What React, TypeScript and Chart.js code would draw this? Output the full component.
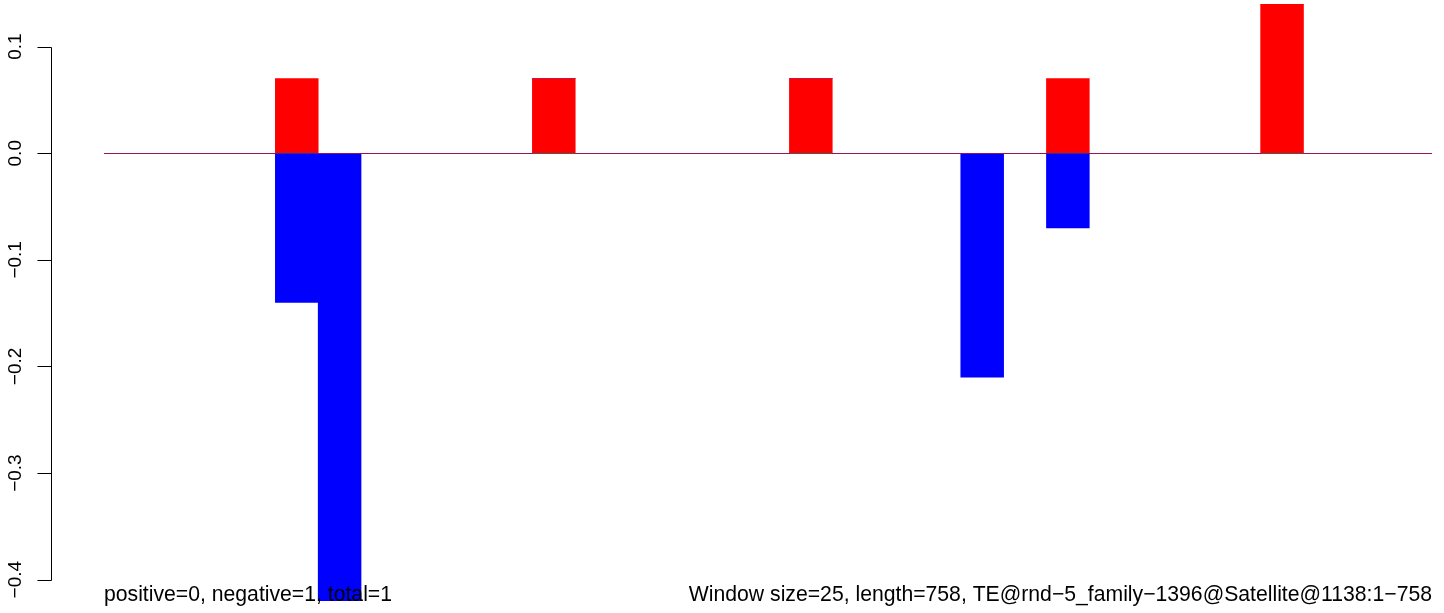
import React, { useEffect, useRef } from "react";
import { Chart, registerables } from "chart.js";

Chart.register(...registerables);

// 31 windows of size 25 along a 758 bp element
const categories = [
  "1", "2", "3", "4", "5", "6", "7", "8", "9", "10",
  "11", "12", "13", "14", "15", "16", "17", "18", "19", "20",
  "21", "22", "23", "24", "25", "26", "27", "28", "29", "30", "31",
];

const positiveValues = [
  0, 0, 0, 0, 0.07, 0, 0, 0, 0, 0,
  0.07, 0, 0, 0, 0, 0, 0.07, 0, 0, 0,
  0, 0, 0.07, 0, 0, 0, 0, 0.14, 0, 0, 0,
];

const negativeValues = [
  0, 0, 0, 0, -0.14, -0.42, 0, 0, 0, 0,
  0, 0, 0, 0, 0, 0, 0, 0, 0, 0,
  -0.21, 0, -0.07, 0, 0, 0, 0, 0, 0, 0, 0,
];

const yTicks = [-0.4, -0.3, -0.2, -0.1, 0.0, 0.1];
const yMin = -0.42;
const yMax = 0.14;

const leftNote = "positive=0, negative=1, total=1";
const rightNote =
  "Window size=25, length=758, TE@rnd\u22125_family\u22121396@Satellite@1138:1\u2212758";

const FONT = '"Liberation Sans", Arial, Helvetica, sans-serif';

function fmt(v: number): string {
  const s = Math.abs(v) < 1e-9 ? "0.0" : v.toFixed(1);
  return s.replace("-", "\u2212");
}

const rAxisPlugin = {
  id: "rAxis",
  afterDraw(chart: any) {
    const ctx: CanvasRenderingContext2D = chart.ctx;
    const y = chart.scales.y;
    const area = chart.chartArea;
    const axisX = 51.5;
    const tickLen = 14;
    ctx.save();
    ctx.strokeStyle = "#000";
    ctx.lineWidth = 1;
    ctx.beginPath();
    const pTop = y.getPixelForValue(yTicks[yTicks.length - 1]);
    const pBot = y.getPixelForValue(yTicks[0]);
    ctx.moveTo(axisX, Math.round(pTop) + 0.5);
    ctx.lineTo(axisX, Math.round(pBot) + 0.5);
    for (const t of yTicks) {
      const py = Math.round(y.getPixelForValue(t)) + 0.5;
      ctx.moveTo(axisX - tickLen, py);
      ctx.lineTo(axisX, py);
    }
    ctx.stroke();

    ctx.fillStyle = "#000";
    ctx.font = `19px ${FONT}`;
    ctx.textAlign = "center";
    ctx.textBaseline = "alphabetic";
    for (const t of yTicks) {
      const py = y.getPixelForValue(t);
      ctx.save();
      ctx.translate(21, py);
      ctx.rotate(-Math.PI / 2);
      ctx.fillText(fmt(t), 0, 0);
      ctx.restore();
    }

    ctx.font = `21.2px ${FONT}`;
    ctx.textAlign = "left";
    ctx.fillText(leftNote, area.left, 601);
    ctx.textAlign = "right";
    ctx.fillText(rightNote, area.right, 601);
    ctx.restore();
  },
};

export default function App() {
  const canvasRef = useRef<HTMLCanvasElement | null>(null);

  useEffect(() => {
    const canvas = canvasRef.current;
    if (!canvas) return;
    const chart = new Chart(canvas, {
      type: "bar",
      data: {
        labels: categories,
        datasets: [
          {
            label: "positive",
            data: positiveValues,
            backgroundColor: "#ff0000",
            borderWidth: 0,
            barPercentage: 1,
            categoryPercentage: 1,
          },
          {
            label: "negative",
            data: negativeValues,
            backgroundColor: "#0000ff",
            borderWidth: 0,
            barPercentage: 1,
            categoryPercentage: 1,
          },
        ],
      },
      options: {
        responsive: false,
        animation: false,
        events: [],
        layout: { padding: { left: 104, right: 12, top: 4, bottom: 12 } },
        plugins: {
          legend: { display: false },
          tooltip: { enabled: false },
          title: { display: false },
        },
        scales: {
          x: {
            display: false,
            stacked: true,
            offset: true,
            grid: { display: false },
          },
          y: {
            display: true,
            stacked: true,
            min: yMin,
            max: yMax,
            border: { display: false },
            ticks: { display: false, stepSize: 0.1, includeBounds: false },
            grid: {
              drawTicks: false,
              lineWidth: 1,
              color: (c: any) =>
                c.tick && Math.abs(c.tick.value) < 1e-9 ? "#555555" : "rgba(0,0,0,0)",
            },
          },
        },
      },
      plugins: [rAxisPlugin],
    });
    return () => chart.destroy();
  }, []);

  return (
    <div style={{ position: "absolute", left: 0, top: 0, width: 1444, height: 613, background: "#fff" }}>
      <canvas ref={canvasRef} width={1444} height={613} />
    </div>
  );
}
